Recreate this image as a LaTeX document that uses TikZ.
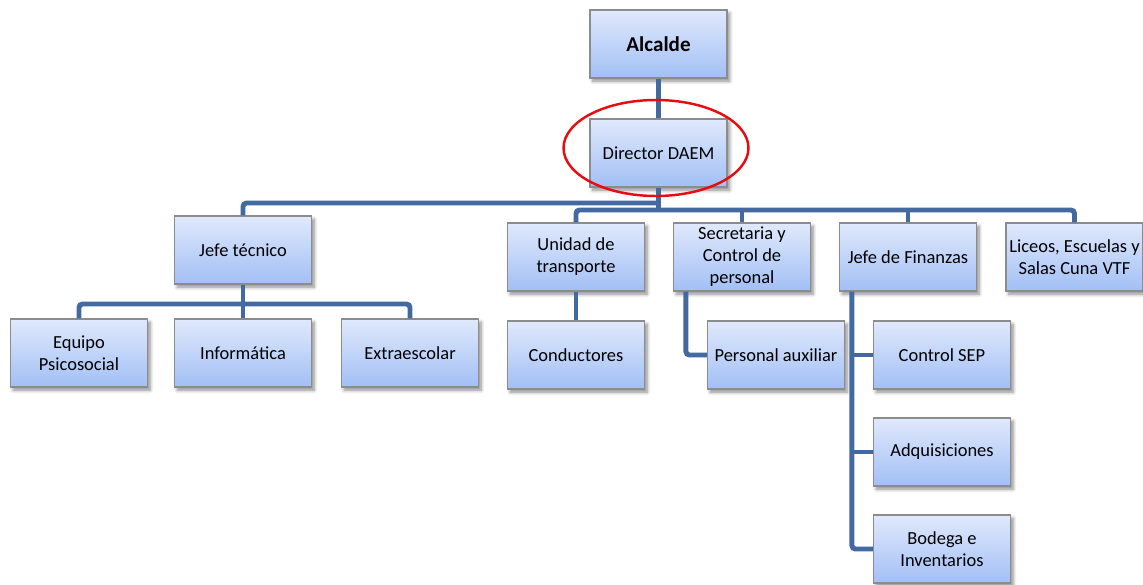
\documentclass[tikz,border=0pt]{standalone}
\usepackage{fontspec}
\setmainfont{Carlito}
\usetikzlibrary{shadows.blur}
\definecolor{linkblue}{RGB}{66,106,160}
\definecolor{boxtop}{RGB}{224,233,252}
\definecolor{boxbottom}{RGB}{162,191,245}
\definecolor{boxline}{RGB}{140,140,140}
\definecolor{markred}{RGB}{232,12,18}

\begin{document}
\begin{tikzpicture}[x=0.02cm, y=-0.02cm,
    box/.style={draw=boxline, line width=0.7pt, top color=boxtop, bottom color=boxbottom,
      minimum width=2.74cm, minimum height=1.36cm, inner sep=1pt, align=center,
      font=\fontsize{10.5}{12.5}\selectfont,
      blur shadow={shadow xshift=1.5pt, shadow yshift=-1.8pt, shadow blur steps=6, shadow opacity=45}},
    link/.style={draw=linkblue, line width=2.8pt, rounded corners=2pt}]

    \useasboundingbox (0,0) rectangle (1143,585);

    % top
    \node[box, font=\fontsize{12}{14}\selectfont\bfseries] (alcalde) at (658.5,44) {Alcalde};
    \node[box] (director) at (658.5,153) {Director DAEM};

    % second row
    \node[box] (jtec) at (243,250) {Jefe técnico};
    \node[box] (unidad) at (576,257) {Unidad de\\transporte};
    \node[box] (secre) at (742,257) {Secretaria y\\Control de\\personal};
    \node[box] (finan) at (908,257) {Jefe de Finanzas};
    \node[box] (liceos) at (1074.5,257) {Liceos, Escuelas y\\Salas Cuna VTF};

    % third row
    \node[box] (equipo) at (79,353) {Equipo\\Psicosocial};
    \node[box] (info) at (243,353) {Informática};
    \node[box] (extra) at (410,353) {Extraescolar};
    \node[box] (conduct) at (576,355) {Conductores};
    \node[box] (aux) at (776,355) {Personal auxiliar};
    \node[box] (sep) at (942,355) {Control SEP};
    \node[box] (adq) at (942,452) {Adquisiciones};
    \node[box] (bodega) at (942,549) {Bodega e\\Inventarios};

    % connectors
    \coordinate (busL) at (658.5,203);
    \coordinate (busR) at (658.5,210);
    \coordinate (jtbus) at (243,304);
    \coordinate (fline) at ([xshift=0.26cm]finan.south west);

    \draw[link] (alcalde) -- (director);
    \draw[link] (director) -- (busR);
    \draw[link] (jtec.north) |- (busL);
    \draw[link] (unidad.north) |- (busR) -| (liceos.north);
    \draw[link] (secre.north) -- (secre.north |- busR);
    \draw[link] (finan.north) -- (finan.north |- busR);

    \draw[link] (equipo.north) |- (jtbus) -| (extra.north);
    \draw[link] (jtec.south) -- (jtbus);
    \draw[link] (info.north) -- (info.north |- jtbus);

    \draw[link] (unidad) -- (conduct);
    \draw[link] ([xshift=0.26cm]secre.south west) |- (aux.west);

    \draw[link] (fline) |- (bodega.west);
    \draw[link] (sep.west) -- (sep.west -| fline);
    \draw[link] (adq.west) -- (adq.west -| fline);

    % highlight
    \draw[markred, line width=1.4pt] (656,148) ellipse [x radius=1.85cm, y radius=0.96cm];

  \end{tikzpicture}
\end{document}
